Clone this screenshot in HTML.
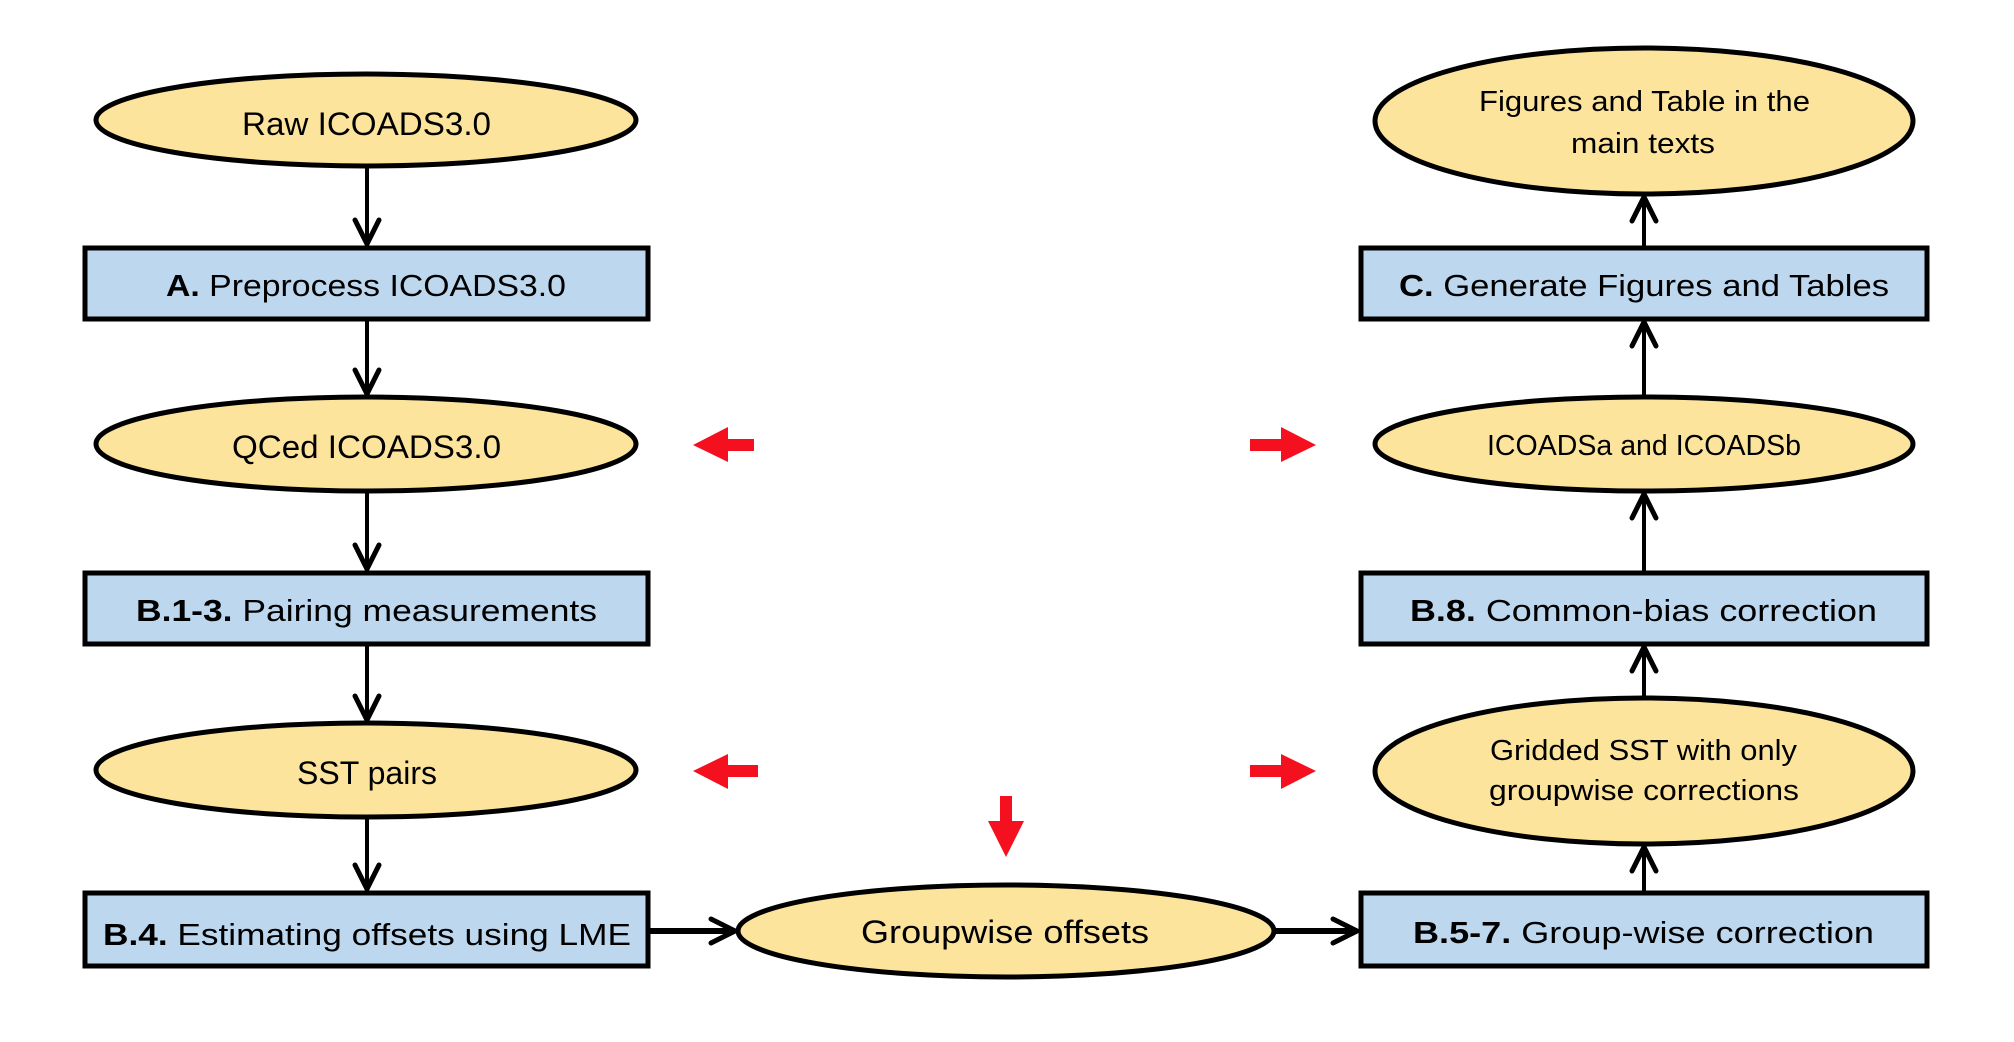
<!DOCTYPE html>
<html><head><meta charset="utf-8"><style>html,body{margin:0;padding:0;background:#fff}svg{display:block}</style></head>
<body>
<svg width="2014" height="1042" viewBox="0 0 2014 1042" xmlns="http://www.w3.org/2000/svg">
<defs>
<marker id="ah" markerUnits="userSpaceOnUse" viewBox="0 0 30 30" refX="27" refY="15" markerWidth="30" markerHeight="30" orient="auto">
<path d="M3,3 L27,15 L3,27" fill="none" stroke="#000" stroke-width="5" stroke-linecap="round" stroke-linejoin="round"/>
</marker>
</defs>
<g fill="#FCE49C" stroke="#000" stroke-width="5">
<ellipse cx="366" cy="120" rx="270" ry="46"/>
<ellipse cx="366" cy="444" rx="270" ry="47"/>
<ellipse cx="366" cy="770" rx="270" ry="47"/>
<ellipse cx="1006" cy="931" rx="268" ry="46"/>
<ellipse cx="1644" cy="121" rx="269" ry="73"/>
<ellipse cx="1644" cy="444" rx="269" ry="47"/>
<ellipse cx="1644" cy="771" rx="269" ry="73"/>
</g>
<g fill="#BDD7EE" stroke="#000" stroke-width="5">
<rect x="85" y="248" width="563" height="71"/>
<rect x="85" y="573" width="563" height="71"/>
<rect x="85" y="893" width="563" height="73"/>
<rect x="1361" y="248" width="566" height="71"/>
<rect x="1361" y="573" width="566" height="71"/>
<rect x="1361" y="893" width="566" height="73"/>
</g>
<g stroke="#000" stroke-width="4" fill="none" marker-end="url(#ah)">
<line x1="367" y1="167" x2="367" y2="244"/>
<line x1="367" y1="321" x2="367" y2="394"/>
<line x1="367" y1="493" x2="367" y2="569"/>
<line x1="367" y1="646" x2="367" y2="720"/>
<line x1="367" y1="818" x2="367" y2="889"/>
<line x1="1644" y1="246" x2="1644" y2="197"/>
<line x1="1644" y1="396" x2="1644" y2="322"/>
<line x1="1644" y1="571" x2="1644" y2="494"/>
<line x1="1644" y1="697" x2="1644" y2="647"/>
<line x1="1644" y1="891" x2="1644" y2="847"/>
</g>
<g stroke="#000" stroke-width="6" fill="none" marker-end="url(#ah)">
<line x1="650" y1="931" x2="735" y2="931"/>
<line x1="1275" y1="931" x2="1357" y2="931"/>
</g>
<g fill="#F5101F">
<polygon points="693,445 728,427 728,439 754,439 754,451 728,451 728,462"/>
<polygon points="693,771 728,754 728,765 758,765 758,777 728,777 728,789"/>
<polygon points="1316,445 1281,427 1281,439 1250,439 1250,451 1281,451 1281,462"/>
<polygon points="1316,771 1281,754 1281,765 1250,765 1250,777 1281,777 1281,789"/>
<polygon points="1000,796 1012,796 1012,821 1024,821 1006,857 988,821 1000,821"/>
</g>
<g font-family="Liberation Sans, sans-serif" fill="#000" lengthAdjust="spacingAndGlyphs">
<text x="242" y="135" font-size="32" textLength="249" lengthAdjust="spacingAndGlyphs">Raw ICOADS3.0</text>
<text x="232" y="458" font-size="32" textLength="269" lengthAdjust="spacingAndGlyphs">QCed ICOADS3.0</text>
<text x="297" y="784" font-size="32" textLength="140" lengthAdjust="spacingAndGlyphs">SST pairs</text>
<text x="861" y="943" font-size="32" textLength="288" lengthAdjust="spacingAndGlyphs">Groupwise offsets</text>
<text x="166" y="296" font-size="31" textLength="400" lengthAdjust="spacingAndGlyphs"><tspan font-weight="bold">A.</tspan> Preprocess ICOADS3.0</text>
<text x="136" y="621" font-size="31" textLength="461" lengthAdjust="spacingAndGlyphs"><tspan font-weight="bold">B.1-3.</tspan> Pairing measurements</text>
<text x="103" y="945" font-size="31" textLength="528" lengthAdjust="spacingAndGlyphs"><tspan font-weight="bold">B.4.</tspan> Estimating offsets using LME</text>
<text x="1399" y="296" font-size="31" textLength="490" lengthAdjust="spacingAndGlyphs"><tspan font-weight="bold">C.</tspan> Generate Figures and Tables</text>
<text x="1410" y="621" font-size="31" textLength="467" lengthAdjust="spacingAndGlyphs"><tspan font-weight="bold">B.8.</tspan> Common-bias correction</text>
<text x="1413" y="943" font-size="31" textLength="461" lengthAdjust="spacingAndGlyphs"><tspan font-weight="bold">B.5-7.</tspan> Group-wise correction</text>
<text x="1479" y="111" font-size="29" textLength="331" lengthAdjust="spacingAndGlyphs">Figures and Table in the</text>
<text x="1571" y="153" font-size="29" textLength="144" lengthAdjust="spacingAndGlyphs">main texts</text>
<text x="1487" y="455" font-size="29" textLength="314" lengthAdjust="spacingAndGlyphs">ICOADSa and ICOADSb</text>
<text x="1490" y="760" font-size="29" textLength="307" lengthAdjust="spacingAndGlyphs">Gridded SST with only</text>
<text x="1489" y="800" font-size="29" textLength="310" lengthAdjust="spacingAndGlyphs">groupwise corrections</text>
</g>
</svg>
</body></html>
